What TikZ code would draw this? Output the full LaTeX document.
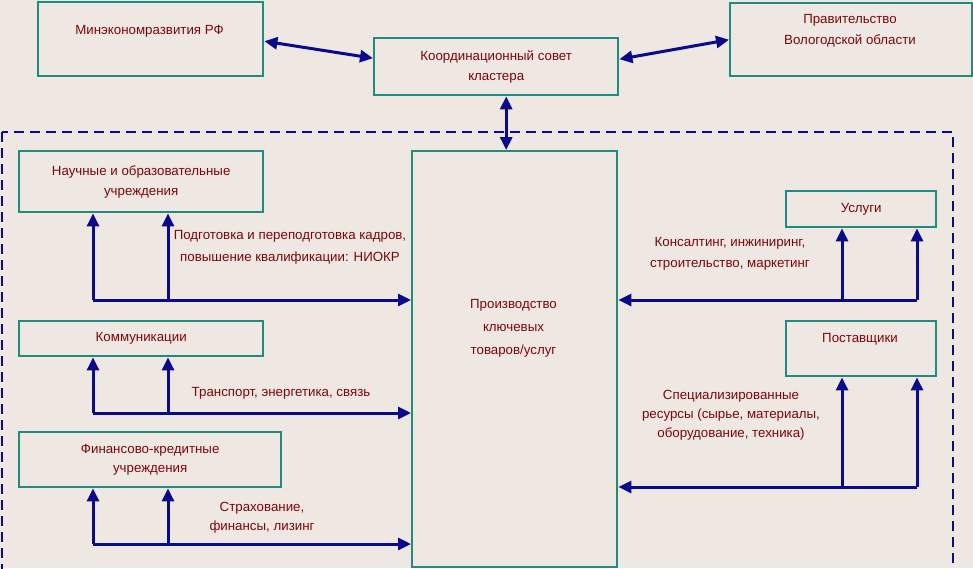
\documentclass[tikz,border=0pt]{standalone}
\usepackage{fontspec}
\setmainfont{Liberation Sans}
\usetikzlibrary{arrows.meta,positioning,calc}
\definecolor{ClustBg}{HTML}{EEE7E2}
\definecolor{ClustTeal}{HTML}{1E8C7E}
\definecolor{ClustNavy}{HTML}{0A0A8C}
\definecolor{ClustRed}{HTML}{7A0808}

\begin{document}
\begin{tikzpicture}[x=1pt,y=-1pt, every node/.style={font=\fontsize{13.3}{21}\selectfont,align=center,text=ClustRed},
    orgbox/.style={draw=ClustTeal,line width=2.4pt,inner sep=0pt,anchor=north west},
    flow/.style={ClustNavy,line width=3pt,-{Triangle[length=13pt,width=12pt]}},
    twoway/.style={flow,{Triangle[length=13pt,width=12pt]}-{Triangle[length=13pt,width=12pt]}}]
    \fill[ClustBg] (0,0) rectangle (973,568);
    \useasboundingbox (0,0) rectangle (973,568);
    \draw[ClustNavy,line width=2.4pt,dash pattern=on 10pt off 6pt] (2,132) rectangle (953,600);
    % top level
    \node[orgbox,minimum width=225pt,minimum height=74pt] (mer) at (37,1) {};
    \node (mertxt) at (149.5,31) {Минэкономразвития РФ};
    \node[orgbox,minimum width=244pt,minimum height=57pt] (sovet) at (373,37) {Координационный совет\\[-1pt]кластера};
    \node[orgbox,minimum width=242pt,minimum height=73pt] (prav) at (729,2) {};
    \node (pravtxt) at (850,31) {Правительство\\Вологодской области};
    % cluster
    \node[orgbox,minimum width=205pt,minimum height=416pt] (prod) at (411,150) {};
    \node (prodtxt) at (513.5,328) {Производство\\[2pt]ключевых\\[2pt]товаров/услуг};
    \node[orgbox,minimum width=244pt,minimum height=61pt] (nauch) at (18,150) {Научные и образовательные\\[-1pt]учреждения};
    \node[orgbox,minimum width=244pt,minimum height=35pt] (komm) at (18,320) {Коммуникации};
    \node[orgbox,minimum width=262pt,minimum height=55pt] (fin) at (18,431) {Финансово-кредитные\\[-2pt]учреждения};
    \node[orgbox,minimum width=150pt,minimum height=36pt] (usl) at (785,190) {Услуги};
    \node[orgbox,minimum width=150pt,minimum height=55pt] (post) at (785,320) {};
    \node (posttxt) at (860,339) {Поставщики};
    % links
    \draw[twoway] ([yshift=-2pt]mer.east) -- ([yshift=8.5pt]sovet.west);
    \draw[twoway] ([yshift=7.5pt]sovet.east) -- (prav.west);
    \draw[twoway] ([xshift=10pt]sovet.south) -- ([xshift=10pt]sovet.south |- prod.north);
    \foreach \b/\y in {nauch/300,komm/413,fin/544}{
      \coordinate (\b a) at (93,\y);
      \coordinate (\b b) at (168,\y);
      \draw[flow] (\b a) -- (\b a |- \b.south);
      \draw[flow] (\b b) -- (\b b |- \b.south);
      \draw[flow] (\b a) -- (\b a -| prod.west);
    }
    \foreach \b/\y in {usl/300,post/487}{
      \coordinate (\b a) at (842,\y);
      \coordinate (\b b) at (917,\y);
      \draw[flow] (\b a) -- (\b a |- \b.south);
      \draw[flow] (\b b) -- (\b b |- \b.south);
      \draw[flow] (\b b) -- (\b b -| prod.east);
    }
    % labels
    \node (kadry) at (290,247) {Подготовка и переподготовка кадров,\\[1pt]повышение квалификации: НИОКР};
    \node (trans) at (281,393) {Транспорт, энергетика, связь};
    \node (strah) at (262,518) {Страхование,\\[-2pt]финансы, лизинг};
    \node (kons) at (730,254) {Консалтинг, инжиниринг,\\строительство, маркетинг};
    \node (resurs) at (731,415) {Специализированные\\[-2pt]ресурсы (сырье, материалы,\\[-2pt]оборудование, техника)};
\end{tikzpicture}
\end{document}
